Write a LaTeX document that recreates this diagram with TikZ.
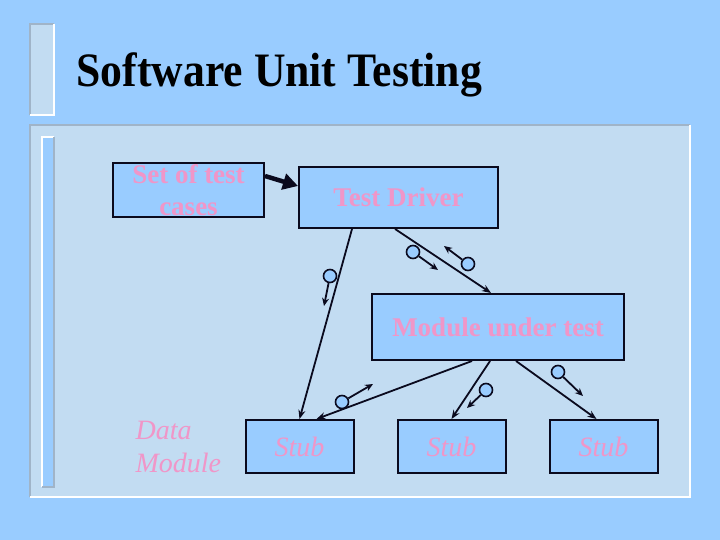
\documentclass[tikz,border=0pt]{standalone}
\usepackage{fontspec}
\setmainfont{Liberation Serif}
\newfontfamily\titlefont[FakeStretch=0.91]{Liberation Serif}
\usetikzlibrary{arrows.meta, positioning, calc}
\definecolor{slidebg}{RGB}{153,204,255}
\definecolor{panelbg}{RGB}{194,220,242}
\definecolor{bevelgray}{RGB}{160,180,200}
\definecolor{labelpink}{RGB}{240,150,200}
\definecolor{linedark}{RGB}{10,10,30}
\tikzstyle{box} = [rectangle, draw=linedark, line width=2pt, fill=slidebg,
    text=labelpink, align=center, inner sep=0pt]
\tikzstyle{drvbox} = [box, font=\fontsize{27}{30}\selectfont\bfseries]
\tikzstyle{stubbox} = [box, minimum width=108pt, minimum height=53pt,
    font=\fontsize{28}{30}\selectfont\itshape]
\tikzstyle{call} = [line width=1.8pt, draw=linedark, -{Stealth[length=9pt,width=7pt]}]
\tikzstyle{couple} = [circle, draw=linedark, line width=1.6pt, fill=slidebg,
    minimum size=13pt, inner sep=0pt]
\tikzstyle{flag} = [line width=1.8pt, draw=linedark, -{Stealth[length=8pt,width=7pt]}]
\tikzstyle{bigarrow} = [line width=4.5pt, draw=linedark, -{Triangle[length=15pt,width=16pt]}]

\begin{document}
\begin{tikzpicture}[x=1pt, y=-1pt]
  \useasboundingbox (0,0) rectangle (720,540);
  % Slide background
  \fill[slidebg] (0,0) rectangle (720,540);
  \fill[panelbg] (30,24) rectangle (54,115);
  \draw[bevelgray, line width=2pt] (30,115) -- (30,24) -- (54,24);
  \draw[white, line width=2pt] (54,24) -- (54,115) -- (30,115);
  \fill[panelbg] (30,125) rectangle (690,497);
  \draw[bevelgray, line width=2pt] (30,497) -- (30,125) -- (690,125);
  \draw[white, line width=2pt] (690,125) -- (690,497) -- (30,497);
  \fill[slidebg] (42,137) rectangle (54,487);
  \draw[white, line width=2pt] (42,487) -- (42,137) -- (54,137);
  \draw[bevelgray, line width=2pt] (54,137) -- (54,487) -- (42,487);

  % Title
  \node[anchor=base west, font=\titlefont\fontsize{48}{50}\selectfont\bfseries]
    (title) at (73,87) {Software Unit Testing};

  % Modules
  \node[drvbox, minimum width=151pt, minimum height=54pt,
    font=\fontsize{27}{32}\selectfont\bfseries] (cases) at (188.5,190)
    {Set of test\\cases};
  \node[drvbox, minimum width=199pt, minimum height=61pt] (driver) at (398.5,197.5)
    {Test Driver};
  \node[drvbox, minimum width=252pt, minimum height=66pt] (module) at (498,327)
    {Module under test};
  \node[stubbox] (stub1) at (299.5,446.5) {Stub};
  \node[stubbox, right=42pt of stub1] (stub2) {Stub};
  \node[stubbox, right=42pt of stub2] (stub3) {Stub};
  \node[anchor=west, align=left, text=labelpink,
    font=\fontsize{28}{33}\selectfont\itshape] (data) at (132,447) {Data\\Module};

  % Calls
  \draw[bigarrow] ([yshift=-14pt]cases.north east) -- ([yshift=-20pt]driver.north west);
  \draw[call] ([xshift=54pt]driver.south west) -- (stub1.north);
  \draw[call] ([xshift=97pt]driver.south west) -- ([xshift=120pt]module.north west);
  \draw[call] ([xshift=101pt]module.south west) -- ([xshift=72pt]stub1.north west);
  \draw[call] ([xshift=119pt]module.south west) -- (stub2.north);
  \draw[call] ([xshift=145pt]module.south west) -- ([xshift=48pt]stub3.north west);

  % Data couples
  \node[couple] (cA) at (330,276) {};
  \node[couple] (cB) at (413,252) {};
  \node[couple] (cC) at (468,264) {};
  \node[couple] (cD) at (342,402) {};
  \node[couple] (cE) at (486,390) {};
  \node[couple] (cF) at (558,372) {};
  \draw[flag] (cA) -- ++(-6,30);
  \draw[flag] (cB) -- ++(25,18);
  \draw[flag] (cC) -- ++(-24,-18);
  \draw[flag] (cD) -- ++(31,-18);
  \draw[flag] (cE) -- ++(-19,18);
  \draw[flag] (cF) -- ++(25,24);
\end{tikzpicture}
\end{document}
